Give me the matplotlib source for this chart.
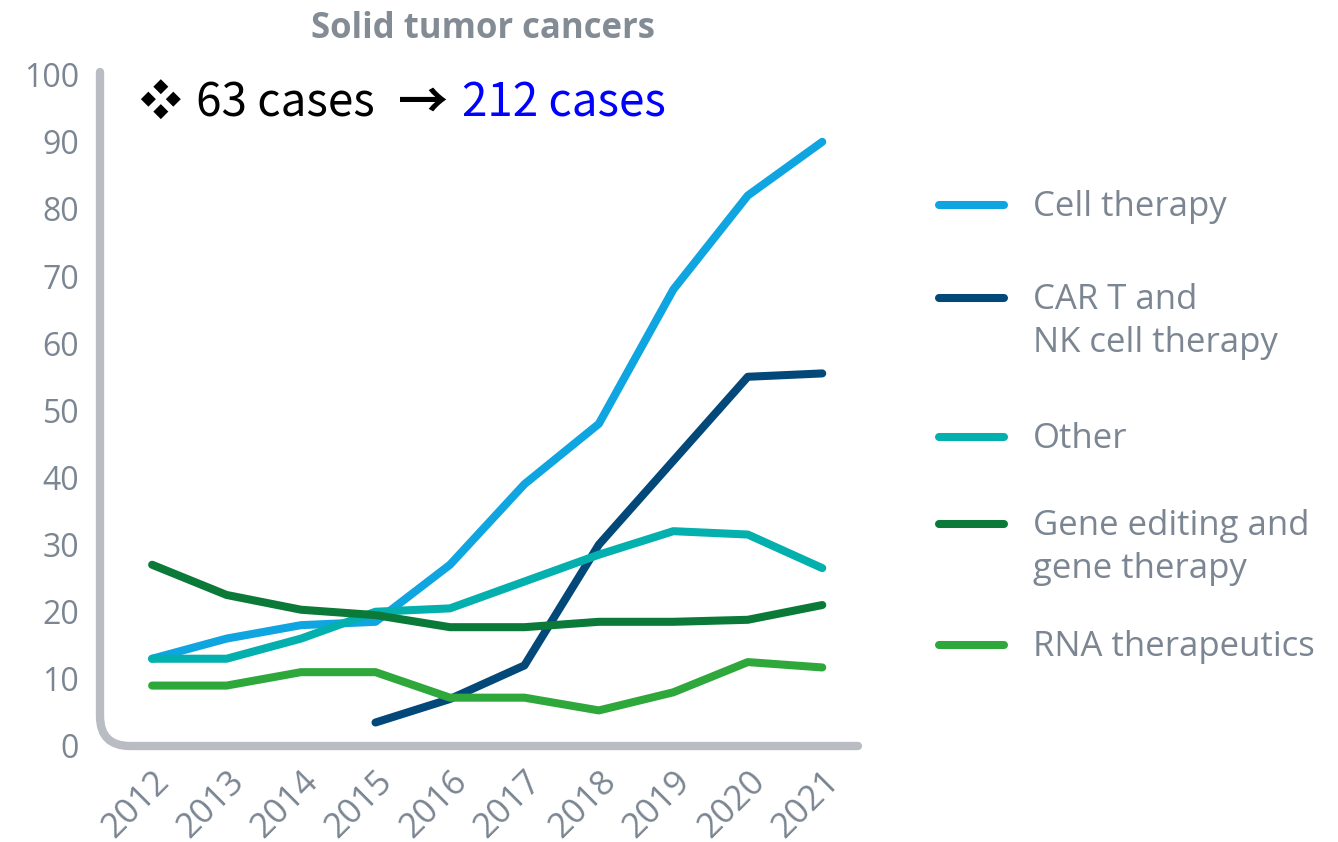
import matplotlib
matplotlib.use("Agg")
import matplotlib.pyplot as plt
from matplotlib.path import Path
from matplotlib.patches import PathPatch
from matplotlib.lines import Line2D

years = [2012, 2013, 2014, 2015, 2016, 2017, 2018, 2019, 2020, 2021]
cell_therapy = [13, 16, 18, 18.5, 27, 39, 48, 68, 82, 90]
car_t_nk = [None, None, None, 3.5, 7, 12, 30, 42.5, 55, 55.5]
other = [13, 13, 16, 20, 20.5, 24.5, 28.5, 32, 31.5, 26.5]
gene_editing = [27, 22.5, 20.3, 19.5, 17.7, 17.7, 18.5, 18.5, 18.8, 21]
rna = [9, 9, 11, 11, 7.2, 7.2, 5.3, 8, 12.5, 11.7]

series_names = ["Cell therapy", "CAR T and\nNK cell therapy", "Other",
                "Gene editing and\ngene therapy", "RNA therapeutics"]
series_values = [cell_therapy, car_t_nk, other, gene_editing, rna]
series_colors = ["#0ea5e1", "#02497a", "#03b0ae", "#0b7a38", "#2fa83b"]

yticks = [0, 10, 20, 30, 40, 50, 60, 70, 80, 90, 100]
title = "Solid tumor cancers"
note_before = "63 cases"
note_after = "212 cases"

GRAY = "#7b8692"
SPINE = "#b9bdc3"
FONT = ["Open Sans", "DejaVu Sans"]
CJK = ["Noto Sans CJK KR", "DejaVu Sans"]

W, H = 1338, 842
fig = plt.figure(figsize=(W / 100, H / 100), dpi=100)
L, R, B, T = 100, 858, 746, 72
ax = fig.add_axes([L / W, 1 - B / H, (R - L) / W, (B - T) / H])
ax.set_xlim(2011.30, 2021.48)
ax.set_ylim(0, 100.4)
for s in ax.spines.values():
    s.set_visible(False)
ax.patch.set_alpha(0)

for name, vals, col in zip(series_names, series_values, series_colors):
    xs = [y for y, v in zip(years, vals) if v is not None]
    ys = [v for v in vals if v is not None]
    ax.plot(xs, ys, color=col, lw=5.8, solid_capstyle="round",
            solid_joinstyle="round", zorder=3)

# rounded L spine
rx = 30 / (R - L)
ry = 30 / (B - T)
verts = [(0, 1), (0, ry), (0, 0), (rx, 0), (1, 0)]
codes = [Path.MOVETO, Path.LINETO, Path.CURVE3, Path.CURVE3, Path.LINETO]
pp = PathPatch(Path(verts, codes), transform=ax.transAxes, fill=False,
               edgecolor=SPINE, lw=6, capstyle="round", joinstyle="round",
               clip_on=False, zorder=2)
ax.add_patch(pp)

ax.set_yticks(yticks)
ax.set_yticklabels([str(v) for v in yticks], fontsize=23, color=GRAY,
                   family=FONT)
ax.set_xticks(years)
ax.set_xticklabels([str(y) for y in years], fontsize=25, color=GRAY,
                   family=FONT, rotation=45, ha="right", rotation_mode="anchor")
ax.tick_params(axis="both", length=0)
ax.tick_params(axis="y", pad=15)
ax.tick_params(axis="x", pad=13)

fig.text(483 / W, 1 - 29 / H, title, ha="center", va="center", fontsize=25,
         fontweight="bold", color="#838b95", family=FONT)

# annotation
yc = 1 - 103 / H
fig.text(139 / W, yc, "\u2756", fontsize=30, va="center", color="black",
         family=CJK)
fig.text(196 / W, yc, note_before, fontsize=33, va="center", color="black",
         family=CJK)
fig.text(398 / W, yc, "\u2192", fontsize=36, va="center", color="black",
         family=CJK, fontweight="bold")
fig.text(462 / W, yc, note_after, fontsize=33, va="center", color="#0000ff",
         family=CJK)

# legend (manual)
leg_y = [205, 298, 437, 524, 645]
for name, col, yy in zip(series_names, series_colors, leg_y):
    fig.add_artist(Line2D([939 / W, 1004 / W], [1 - yy / H, 1 - yy / H],
                          color=col, lw=5.8, solid_capstyle="round"))
    fig.text(1033 / W, 1 - (yy - 15) / H, name, ha="left", va="top",
             fontsize=25, color=GRAY, family=FONT, linespacing=1.35)

fig.savefig("out.png", dpi=100)
